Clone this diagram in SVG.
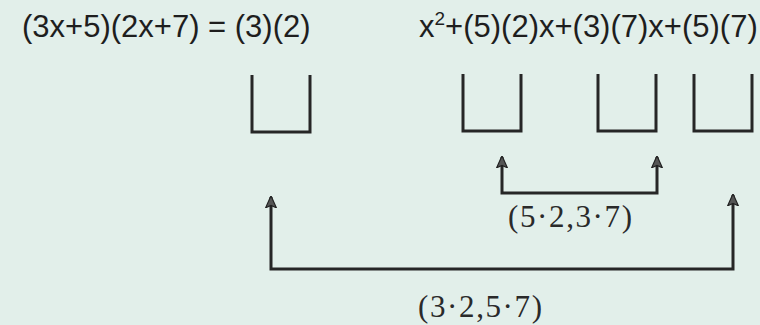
<svg xmlns="http://www.w3.org/2000/svg" width="760" height="325" viewBox="0 0 760 325">
<style>
.eq{font-family:"Liberation Sans",Arial,sans-serif;font-size:31px;fill:#1e1e1e}
.lbl{font-family:"Liberation Serif","Times New Roman",serif;font-size:31px;fill:#2a2a2a}
.box{fill:none;stroke:#262626;stroke-width:3;stroke-linejoin:miter}
.con{fill:none;stroke:#262626;stroke-width:3}
</style>
<defs>
<marker id="ah" viewBox="0 0 10 10" refX="9" refY="5" markerWidth="4" markerHeight="4" orient="auto-start-reverse" markerUnits="strokeWidth">
<path d="M10,5 L0,0.5 L2,5 L0,9.5 Z" fill="#555" stroke="#222" stroke-width="1"/>
</marker>
</defs>
<rect width="760" height="325" fill="#e2efea"/>
<g id="eq-left"><text class="eq" x="22" y="37">(3x+5)(2x+7) = (3)(2)</text></g>
<g id="eq-right"><text class="eq" x="419" y="37">x<tspan font-size="19" dy="-12">2</tspan><tspan dy="12">+(5)(2)x+(3)(7)x+(5)(7)</tspan></text></g>
<g id="box1"><path class="box" d="M252,75 V132 H310 V75"/></g>
<g id="box2"><path class="box" d="M463,74 V131 H521 V74"/></g>
<g id="box3"><path class="box" d="M598,74 V131 H656 V74"/></g>
<g id="box4"><path class="box" d="M694,74 V131 H752 V74"/></g>
<g id="connectors">
<path class="con" d="M502,157 V193 H657 V157" marker-start="url(#ah)" marker-end="url(#ah)"/>
<path class="con" d="M271,197 V269 H733 V195" marker-start="url(#ah)" marker-end="url(#ah)"/>
</g>
<g id="label1"><text class="lbl" x="508" y="227" textLength="124" lengthAdjust="spacing">(5·2,3·7)</text></g>
<g id="label2"><text class="lbl" x="418" y="317" textLength="124" lengthAdjust="spacing">(3·2,5·7)</text></g>
</svg>
